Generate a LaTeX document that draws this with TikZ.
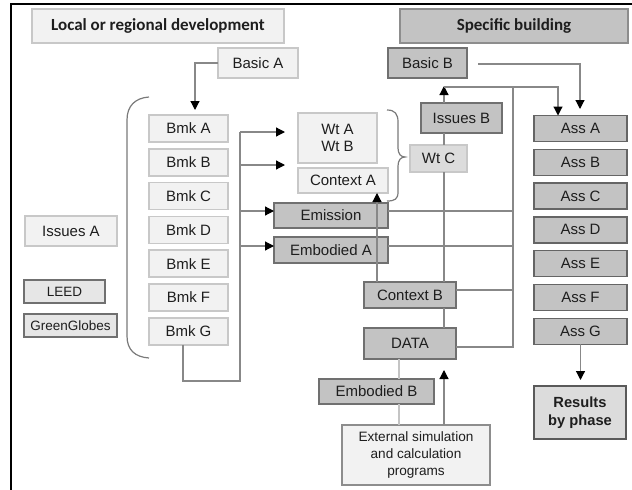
\documentclass[tikz,border=0pt]{standalone}
\usepackage{fontspec}
\setmainfont{Liberation Sans}
\newfontfamily\hdrfont{Carlito}
\usetikzlibrary{arrows.meta,calc}
\definecolor{lfill}{HTML}{F2F2F2}
\definecolor{lborder}{HTML}{C8C8C8}
\definecolor{dfill}{HTML}{C3C3C3}
\definecolor{dborder}{HTML}{707070}
\definecolor{mfill}{HTML}{DCDCDC}
\definecolor{linec}{HTML}{888888}
\definecolor{lightline}{HTML}{C4C4C4}
\definecolor{txt}{HTML}{1E1E1E}
\tikzset{
  box/.style={draw, line width=1.5pt, inner sep=0pt, outer sep=0pt, align=center, text=txt,
    font=\fontsize{15}{17}\selectfont},
  lbox/.style={box, fill=lfill, draw=lborder},
  dbox/.style={box, fill=dfill, draw=dborder},
  mbox/.style={box, fill=mfill, draw=lborder},
  sbox/.style={box, fill=lfill!95!black, draw=dborder, font=\fontsize{13.5}{15}\selectfont},
  bmkbox/.style={lbox, minimum width=79pt, minimum height=27pt},
  assbox/.style={dbox, minimum width=93pt, minimum height=26pt, draw=dborder!90!black},
  conn/.style={draw=linec, line width=1.2pt},
  arr/.style={conn, -{Triangle[length=9pt,width=9pt,color=black]}},
  brace/.style={draw=linec!90!black, line width=1.2pt},
}
\begin{document}
\begin{tikzpicture}[x=1pt,y=-1pt]
\useasboundingbox (0,0) rectangle (632,490);
% frame
\draw[line width=2pt] (11,490) -- (11,4) -- (632,4);
% headers
\node[box, fill=lfill, draw=lborder, line width=2pt, minimum width=252pt, minimum height=34pt,
  font=\hdrfont\bfseries\fontsize{17}{20}\selectfont] (hdrL) at (158,26) {Local or regional development};
\node[box, fill=dfill, draw=dborder!80, line width=2pt, minimum width=228pt, minimum height=34pt,
  font=\hdrfont\bfseries\fontsize{17}{20}\selectfont] (hdrR) at (514,26) {Specific building};
% left nodes
\node[lbox, minimum width=80pt, minimum height=30pt] (basicA) at (258,63) {Basic A};
\node[lbox, minimum width=92pt, minimum height=30pt] (issuesA) at (71,231) {Issues A};
\node[sbox, minimum width=81pt, minimum height=23pt] (leed) at (64.5,291.5) {LEED};
\node[sbox, minimum width=93pt, minimum height=23pt] (gg) at (70.5,325.5) {GreenGlobes};
\node[bmkbox] (bmkA) at (188.5,128.5) {Bmk A};
\node[bmkbox] (bmkB) at (188.5,162.3) {Bmk B};
\node[bmkbox] (bmkC) at (188.5,196.1) {Bmk C};
\node[bmkbox] (bmkD) at (188.5,229.9) {Bmk D};
\node[bmkbox] (bmkE) at (188.5,263.7) {Bmk E};
\node[bmkbox] (bmkF) at (188.5,297.5) {Bmk F};
\node[bmkbox] (bmkG) at (188.5,331.3) {Bmk G};
% middle nodes
\node[lbox, minimum width=79pt, minimum height=50pt] (wtAB) at (337.5,138) {Wt A\\Wt B};
\node[lbox, minimum width=90pt, minimum height=25pt] (ctxA) at (343,180.5) {Context A};
\node[mbox, minimum width=57pt, minimum height=27pt] (wtC) at (438.5,158.5) {Wt C};
\node[dbox, minimum width=79pt, minimum height=30pt] (basicB) at (427.5,63) {Basic B};
\node[dbox, minimum width=81pt, minimum height=30pt] (issuesB) at (461.5,118) {Issues B};
\node[dbox, minimum width=114pt, minimum height=25pt] (emis) at (331,215.5) {Emission};
\node[dbox, minimum width=114pt, minimum height=26pt] (embA) at (331,250) {Embodied A};
\node[dbox, minimum width=92pt, minimum height=26pt] (ctxB) at (410,295) {Context B};
\node[dbox, minimum width=92pt, minimum height=31pt] (data) at (410,343.5) {DATA};
\node[dbox, minimum width=115pt, minimum height=25pt] (embB) at (376.5,391.5) {Embodied B};
\node[lbox, draw=dborder!80, minimum width=148pt, minimum height=60pt,
  font=\fontsize{13.6}{16.7}\selectfont] (ext) at (416,455) {External simulation\\and calculation\\programs};
% right nodes
\node[assbox] (assA) at (580.5,128.5) {Ass A};
\node[assbox] (assB) at (580.5,162.3) {Ass B};
\node[assbox] (assC) at (580.5,196.1) {Ass C};
\node[assbox] (assD) at (580.5,229.9) {Ass D};
\node[assbox] (assE) at (580.5,263.7) {Ass E};
\node[assbox] (assF) at (580.5,297.5) {Ass F};
\node[assbox] (assG) at (580.5,331.3) {Ass G};
\node[box, fill=mfill, draw=dborder!80!black, minimum width=92pt, minimum height=53pt,
  font=\bfseries\fontsize{14.7}{17.7}\selectfont] (res) at (580,412.5) {Results\\by phase};
% brackets
\draw[brace] (149,97) .. controls (135,98) and (127,106) .. (127,120) -- (127,336)
  .. controls (127,350) and (135,357) .. (149,358);
\draw[brace] (387,110) .. controls (395,110) and (398,114) .. (398,122) -- (398,148)
  .. controls (398,154) and (401,157) .. (405,157)
  .. controls (401,157) and (398,160) .. (398,166) -- (398,192)
  .. controls (398,199) and (395,201) .. (387,201);
% coordinates
\coordinate (a1) at (195,110);
\coordinate (busTop) at (240,132);
\coordinate (busB) at (240,165);
\coordinate (busC) at (240,211);
\coordinate (busD) at (240,246);
\coordinate (busBot) at (240,381);
\coordinate (tA) at (285,132);
\coordinate (tB) at (285,165);
\coordinate (r87) at (444,87);
\coordinate (r87b) at (513,87);
\coordinate (bb1) at (478,64);
\coordinate (bb2) at (580,109);
\coordinate (dataArr) at (444,370);
\coordinate (resArr) at (580.5,380);
% connectors
\draw[arr] (basicA.west) -| (a1);
\draw[conn] ([xshift=-5.5pt]bmkG.south) |- (busBot) -- (busTop);
\draw[arr] (busTop) -- (tA);
\draw[arr] (busB) -- (tB);
\draw[arr] (busC) -- (emis.west |- busC);
\draw[arr] (busD) -- (embA.west |- busD);
\draw[conn] (emis.east |- busC) -- (busC -| r87b);
\draw[conn] (embA.east |- busD) -- (busD -| r87b);
\draw[conn] (ctxB.east |- 0,290) -- (513,290);
\draw[conn] (r87b) |- (data.east |- 0,347);
\draw[arr] (issuesB.north -| r87) -- ([yshift=1pt]r87);
\draw[arr] (r87) -| (assA.north -| 558,0);
\draw[arr] (bb1) -| (bb2);
\draw[conn] (issuesB.south -| r87) -- (wtC.north -| r87);
\draw[conn] (wtC.south -| r87) -- (ctxB.north -| r87);
\draw[conn] (ctxB.south -| r87) -- (data.north -| r87);
\draw[conn, draw=lightline] (data.south -| 399,0) -- (embB.north -| 399,0);
\draw[conn, draw=lightline] (embB.south -| 399,0) -- (ext.north -| 399,0);
\draw[arr] (ext.north -| dataArr) -- (dataArr);
\draw[arr] (assG.south) -- (resArr);
\draw[arr] (ctxB.north -| 377,0) -- (ctxA.south -| 377,0);
\end{tikzpicture}
\end{document}
